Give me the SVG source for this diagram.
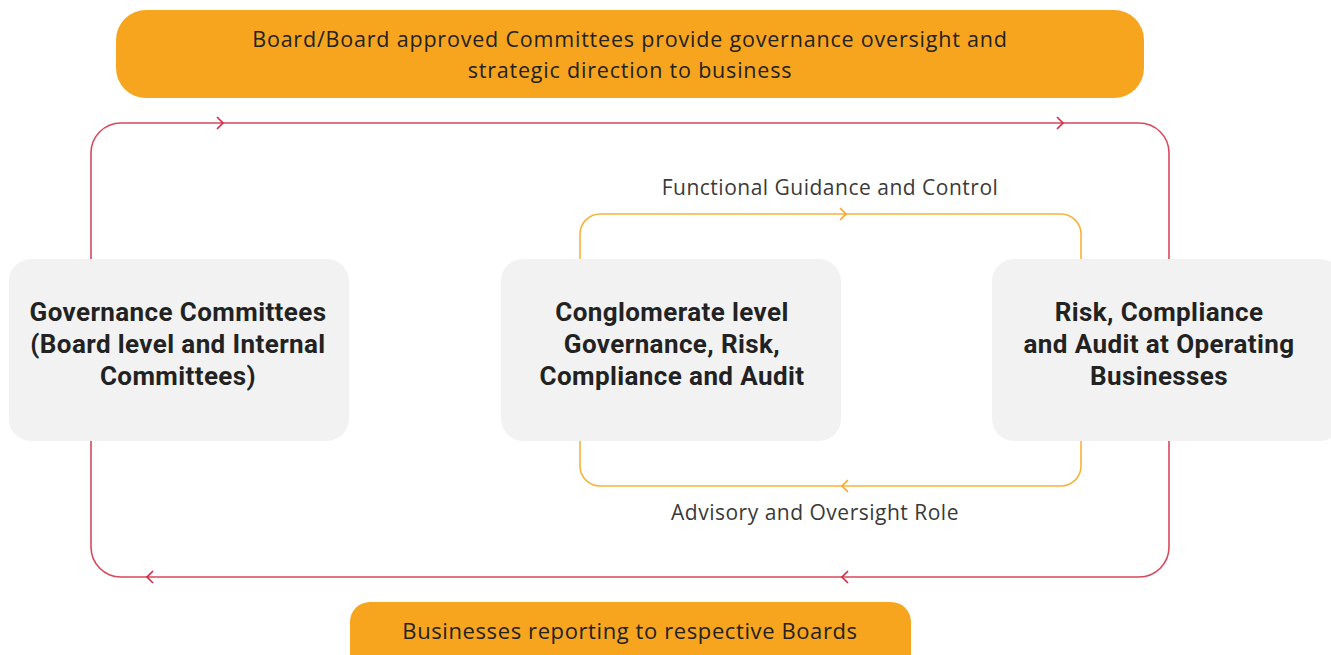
<svg xmlns="http://www.w3.org/2000/svg" width="1331" height="655" viewBox="0 0 1331 655">
<defs>
<style>
.banner{fill:#F7A51F}
.box{fill:#F2F2F2}
.bt{font-family:"Open Sans","Liberation Sans",sans-serif;font-size:21.5px;letter-spacing:0.8px;fill:#222;text-anchor:middle}
.bb{font-family:"Open Sans","Liberation Sans",sans-serif;font-size:22px;letter-spacing:0.6px;fill:#222;text-anchor:middle}
.nt{font-family:Roboto,"Liberation Sans",sans-serif;font-weight:bold;font-size:26px;letter-spacing:0.4px;fill:#222;text-anchor:middle}
.lt{font-family:"Open Sans","Liberation Sans",sans-serif;font-size:21px;letter-spacing:0.5px;fill:#3a3a3a;text-anchor:middle}
.red{fill:none;stroke:#D9475C;stroke-width:1.6}
.redh{fill:none;stroke:#D32A42;stroke-width:1.6}
.org{fill:none;stroke:#F9B23A;stroke-width:1.6}
.orgh{fill:none;stroke:#F7A51F;stroke-width:1.6}
</style>
</defs>
<g id="connectors">
<path class="red" d="M91 259 V153 A30 30 0 0 1 121 123 H1139 A30 30 0 0 1 1169 153 V259"/>
<path class="red" d="M91 441 V547 A30 30 0 0 0 121 577 H1139 A30 30 0 0 0 1169 547 V441"/>
<path class="redh" d="M217 117 L223 123 L217 129"/>
<path class="redh" d="M1057 117 L1063 123 L1057 129"/>
<path class="redh" d="M153 571 L147 577 L153 583"/>
<path class="redh" d="M848 571 L842 577 L848 583"/>
<path class="org" d="M580 259 V234 A20 20 0 0 1 600 214 H1061 A20 20 0 0 1 1081 234 V259"/>
<path class="org" d="M580 441 V466 A20 20 0 0 0 600 486 H1061 A20 20 0 0 0 1081 466 V441"/>
<path class="orgh" d="M840 208 L846 214 L840 220"/>
<path class="orgh" d="M848 480 L842 486 L848 492"/>
<text class="lt" x="830" y="195">Functional Guidance and Control</text>
<text class="lt" x="815" y="520">Advisory and Oversight Role</text>
</g>
<g id="top-banner">
<rect class="banner" x="116" y="10" width="1028" height="88" rx="30"/>
<text class="bt" x="630" y="47">Board/Board approved Committees provide governance oversight and</text>
<text class="bt" x="630" y="78">strategic direction to business</text>
</g>
<g id="governance-committees">
<rect class="box" x="9" y="259" width="340" height="182" rx="22"/>
<text class="nt" x="178" y="321">Governance Committees</text>
<text class="nt" x="178" y="353">(Board level and Internal</text>
<text class="nt" x="178" y="385">Committees)</text>
</g>
<g id="conglomerate">
<rect class="box" x="501" y="259" width="340" height="182" rx="22"/>
<text class="nt" x="672" y="321">Conglomerate level</text>
<text class="nt" x="672" y="353">Governance, Risk,</text>
<text class="nt" x="672" y="385">Compliance and Audit</text>
</g>
<g id="operating-businesses">
<rect class="box" x="992" y="259" width="350" height="182" rx="22"/>
<text class="nt" x="1159" y="321">Risk, Compliance</text>
<text class="nt" x="1159" y="353">and Audit at Operating</text>
<text class="nt" x="1159" y="385">Businesses</text>
</g>
<g id="bottom-banner">
<rect class="banner" x="350" y="602" width="561" height="80" rx="20"/>
<text class="bb" x="630" y="639">Businesses reporting to respective Boards</text>
</g>
</svg>
